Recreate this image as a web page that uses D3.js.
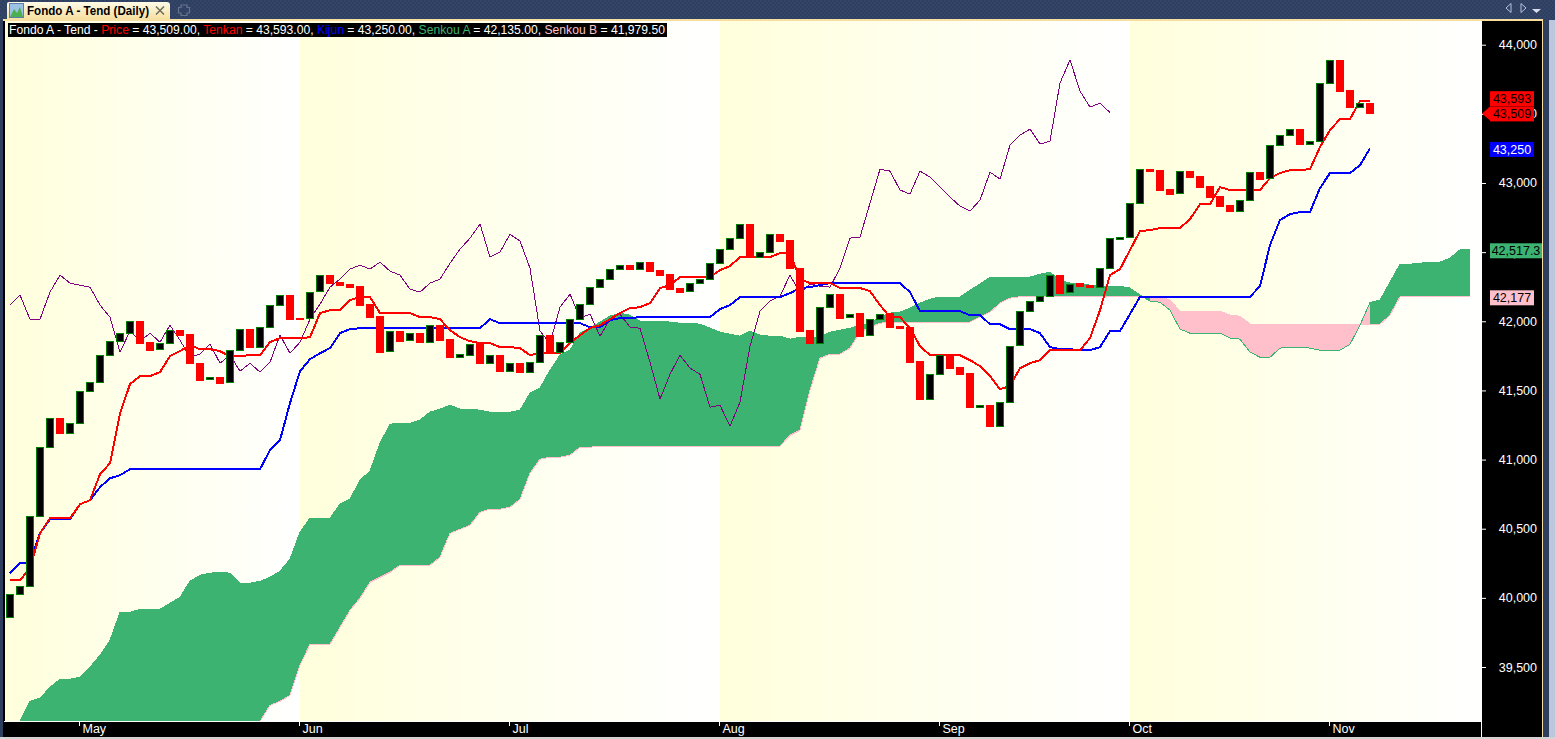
<!DOCTYPE html>
<html><head><meta charset="utf-8">
<script src="https://cdnjs.cloudflare.com/ajax/libs/d3/7.8.5/d3.min.js"></script>
<style>html,body{margin:0;padding:0;background:#2d3e5f;overflow:hidden}svg{display:block}text{font-family:"Liberation Sans",Arial,sans-serif}</style>
</head><body><svg id="c" width="1555" height="739"></svg>
<script>
// ---------- data (price units, one entry per trading day) ----------
const opens=[39860,40026,40084,40590,41089,41299,41191,41263,41495,41560,41755,41856,41914,42001,41849,41798,41842,41936,41907,41697,41581,41596,41560,41791,41943,41813,41957,42117,42189,42023,42023,42218,42334,42283,42269,42254,42124,42037,41784,41929,41863,41914,41849,41972,41871,41740,41755,41849,41697,41755,41639,41697,41632,41704,41900,41777,41849,42015,42124,42247,42305,42377,42406,42377,42428,42370,42341,42240,42218,42276,42305,42420,42522,42601,42703,42464,42500,42630,42587,42384,41936,41842,42102,42196,42030,42059,41900,42015,42059,41965,41957,41711,41437,41617,41755,41668,41625,41379,41393,41241,41415,41827,42073,42146,42182,42334,42211,42276,42261,42247,42384,42594,42609,42854,43100,43093,42956,42927,43086,43050,42978,42905,42840,42797,42876,43079,43035,43274,43346,43390,43281,43303,43723,43889,43672,43549,43578];
const closes=[40026,40084,40590,41089,41299,41191,41263,41495,41560,41755,41856,41914,42001,41842,41791,41842,41936,41900,41697,41574,41596,41552,41791,41943,41813,41957,42117,42189,42015,42015,42211,42334,42276,42261,42247,42117,42030,41777,41929,41856,41914,41849,41972,41863,41740,41762,41834,41697,41755,41639,41697,41632,41704,41900,41769,41849,42015,42124,42247,42305,42377,42406,42377,42428,42363,42334,42232,42211,42276,42305,42420,42522,42601,42703,42464,42500,42630,42580,42384,41929,41842,42102,42196,42023,42052,41892,42015,42052,41957,41950,41704,41437,41617,41755,41661,41617,41379,41393,41241,41415,41820,42073,42146,42182,42334,42203,42269,42254,42247,42384,42601,42609,42854,43100,43086,42949,42920,43086,43043,42970,42898,42833,42797,42876,43079,43028,43274,43346,43390,43281,43303,43723,43889,43665,43549,43578,43509];
const tenkan=[40127,40127,40214,40467,40576,40576,40576,40677,40706,40894,40974,41335,41545,41603,41603,41632,41748,41784,41827,41798,41798,41784,41748,41748,41755,41755,41849,41878,41878,41878,41885,42059,42080,42080,42153,42175,42175,42059,42059,42059,42059,42030,42030,42015,41936,41885,41856,41842,41842,41813,41813,41806,41755,41769,41769,41769,41842,41900,41950,41972,42015,42059,42095,42102,42131,42240,42261,42319,42319,42319,42319,42370,42399,42464,42464,42464,42464,42493,42493,42305,42276,42276,42276,42240,42240,42240,42218,42117,42030,42030,41950,41820,41755,41755,41755,41755,41719,41675,41603,41509,41531,41661,41697,41719,41791,41791,41791,41791,41878,42080,42334,42377,42515,42652,42659,42674,42674,42674,42739,42847,42847,42970,42949,42949,42949,42949,43035,43072,43093,43093,43100,43260,43383,43462,43462,43593,43593];
const kijun=[40178,40250,40258,40467,40569,40569,40569,40677,40706,40800,40865,40887,40930,40930,40930,40930,40930,40930,40930,40930,40930,40930,40930,40930,40930,40930,41068,41140,41408,41639,41726,41769,41806,41914,41943,41950,41950,41950,41950,41950,41950,41950,41950,41950,41950,41950,41950,41950,42015,41986,41986,41986,41986,41986,41986,41986,41986,41986,41957,41957,42008,42023,42023,42030,42030,42030,42030,42030,42030,42030,42030,42088,42117,42175,42175,42175,42175,42175,42203,42240,42247,42261,42276,42276,42276,42276,42276,42276,42276,42276,42211,42073,42073,42073,42073,42073,42044,42044,41979,41979,41943,41943,41943,41914,41813,41798,41798,41791,41791,41813,41929,41929,42052,42177,42177,42177,42177,42177,42177,42177,42177,42177,42177,42177,42177,42254,42551,42732,42775,42789,42789,42963,43072,43072,43072,43129,43250];
const senkouA=[39006,39107,39252,39274,39353,39411,39411,39426,39498,39585,39693,39896,39896,39917,39917,39917,39961,40004,40120,40163,40178,40185,40178,40106,40106,40120,40149,40192,40279,40475,40576,40576,40576,40677,40713,40851,40916,41118,41256,41263,41263,41285,41343,41364,41393,41364,41364,41357,41343,41343,41343,41357,41480,41516,41646,41755,41791,41914,41950,41994,42037,42059,42044,42001,42001,42001,41994,41986,41986,41979,41950,41921,41907,41892,41929,41900,41892,41892,41871,41885,41885,41885,41921,41936,41950,41972,41986,42030,42059,42066,42095,42131,42160,42175,42175,42175,42225,42269,42319,42319,42319,42319,42319,42341,42355,42297,42276,42276,42261,42254,42254,42254,42240,42189,42146,42138,42080,41943,41914,41914,41914,41914,41878,41871,41777,41740,41740,41806,41813,41813,41806,41791,41791,41791,41834,41972,42135,42153,42283,42413,42413,42420,42428,42428,42457,42517,42517];
const senkouB=[38900,38900,38900,38900,38900,38900,38900,38900,38900,38900,38900,38900,38900,38900,38900,38900,38900,38900,38900,38900,38900,38900,38900,38900,38900,39107,39223,39252,39295,39512,39664,39664,39664,39787,39910,39997,40113,40149,40185,40236,40236,40236,40236,40294,40467,40496,40525,40619,40641,40641,40655,40713,40901,41003,41017,41017,41032,41089,41089,41097,41097,41097,41097,41097,41097,41097,41097,41097,41097,41097,41097,41097,41097,41097,41097,41097,41097,41097,41176,41212,41502,41733,41762,41762,41806,41921,41957,41986,41994,41994,41994,41994,41994,41994,41994,41994,41994,42030,42066,42131,42167,42177,42177,42177,42177,42177,42177,42177,42177,42177,42177,42177,42177,42177,42177,42177,42153,42073,42073,42073,42073,42073,42044,42037,41979.5,41979.5,41979.5,41979.5,41979.5,41979.5,41979.5,41979.5,41979.5,41979.5,41979.5,41979.5,41979.5,41979.5,42044,42177,42177,42177,42177,42177,42177,42177,42177];
const chikouShift=26;
const priceTicks=[39500,40000,40500,41000,41500,42000,42500,43000,43500,44000];
const monthNames=["May","Jun","Jul","Aug","Sep","Oct","Nov"];
const monthIndex=[7,29,50,71,93,112,132];
const bandStarts=[0,29,71,112];
const legendParts=[["Fondo A - Tend - ","#fff"],["Price","#ff0000"],[" = 43,509.00, ","#fff"],["Tenkan","#ff0000"],[" = 43,593.00, ","#fff"],["Kijun","#0000ff"],[" = 43,250.00, ","#fff"],["Senkou A","#3cb371"],[" = 42,135.00, ","#fff"],["Senkou B","#ffc0cb"],[" = 41,979.50","#fff"]];
const title="Fondo A - Tend (Daily)";

// ---------- layout ----------
const svg=d3.select("#c");
const L=5,R=1482,T=21,B=721;
const x=d3.scaleLinear().domain([0,146]).range([10,1470]);
const y=d3.scaleLinear().domain([39500,44000]).range([667,44.7]);
const GREEN="#3cb371",PINK="#ffc0cb";
const defs=svg.append("defs");
const bandG=defs.append("linearGradient").attr("id","band");
bandG.append("stop").attr("offset",0).attr("stop-color","#ffffdc");
bandG.append("stop").attr("offset",1).attr("stop-color","#ffffff");
const tabG=defs.append("linearGradient").attr("id","tab").attr("x2",0).attr("y2",1);
tabG.append("stop").attr("offset",0).attr("stop-color","#fffbe8");
tabG.append("stop").attr("offset",1).attr("stop-color","#f6dfa0");
const pat=defs.append("pattern").attr("id","tile").attr("width",4).attr("height",4).attr("patternUnits","userSpaceOnUse");
pat.append("rect").attr("width",4).attr("height",4).attr("fill","#2e3f60");
pat.append("rect").attr("width",2).attr("height",2).attr("fill","#33466a");
pat.append("rect").attr("x",2).attr("y",2).attr("width",2).attr("height",2).attr("fill","#33466a");
defs.append("clipPath").attr("id","plot").append("rect").attr("x",L).attr("y",T).attr("width",R-L).attr("height",B-T);

// window chrome
svg.append("rect").attr("width",1555).attr("height",739).attr("fill","#2d3e5f");
svg.append("rect").attr("width",1555).attr("height",20).attr("fill","url(#tile)");
svg.append("rect").attr("x",1549).attr("y",20).attr("width",6).attr("height",719).attr("fill","#bcc7de");
svg.append("rect").attr("x",0).attr("y",737).attr("width",1555).attr("height",2).attr("fill","#d4d4d4");
svg.append("rect").attr("x",3).attr("y",19).attr("width",1540).attr("height",2).attr("fill","#f6dfa0");
svg.append("rect").attr("x",1542).attr("y",19).attr("width",1).attr("height",718).attr("fill","#f6dfa0");
svg.append("path").attr("d","M7,19V4Q7,2 9,2H167Q170,2 170,5V19Z").attr("fill","url(#tab)");
svg.append("rect").attr("x",9.5).attr("y",3.5).attr("width",14).attr("height",14).attr("fill","#9cc3e6").attr("stroke","#5b7fa8");
svg.append("path").attr("d","M10,17L14,9L17,13L20,7L23,17Z").attr("fill","#4caf50");
svg.append("text").attr("x",27).attr("y",14.500).attr("font-size",13).attr("font-weight","bold").attr("fill","#000").attr("textLength",122).attr("lengthAdjust","spacingAndGlyphs").text(title);
svg.append("path").attr("d","M156,6.500L164,14.500M164,6.500L156,14.500").attr("stroke","#6b6b5a").attr("stroke-width",1.500);
svg.append("path").attr("d","M181,5H187V7.500H189.500V13H187V15.500H181V13H178.500V7.500H181Z").attr("fill","none").attr("stroke","#66738c").attr("stroke-width",1.200);
svg.append("path").attr("d","M1506,8L1511,3.500V12.500Z").attr("fill","none").attr("stroke","#b8c4dc");
svg.append("path").attr("d","M1521,3.500L1526,8L1521,12.500Z").attr("fill","none").attr("stroke","#b8c4dc");
svg.append("path").attr("d","M1532,9H1541L1536.500,13Z").attr("fill","#d8deea");

// plot background and month bands
svg.append("rect").attr("x",3).attr("y",T).attr("width",2).attr("height",716).attr("fill","#000");
const bandEdges=bandStarts.map((d,i)=>i?x(d):L).concat([R]);
svg.append("g").selectAll("rect").data(d3.pairs(bandEdges)).join("rect")
  .attr("x",d=>d[0]).attr("y",T).attr("width",d=>d[1]-d[0]).attr("height",B-T).attr("fill","url(#band)");

const plot=svg.append("g").attr("clip-path","url(#plot)");
// cloud: each interval takes the colour of its left point
const area=d3.area().x(i=>x(i)).y0(i=>y(senkouB[i])).y1(i=>y(senkouA[i]));
plot.append("g").attr("shape-rendering","crispEdges").selectAll("path").data(d3.pairs(d3.range(senkouA.length))).join("path")
  .attr("d",d=>area(d)).attr("fill",d=>senkouA[d[0]]>=senkouB[d[0]]?GREEN:PINK);
const line=(arr)=>d3.line().x((d,i)=>x(i)).y(d=>y(d))(arr);
const lines=plot.append("g").attr("fill","none").attr("shape-rendering","crispEdges");
lines.append("path").attr("d",line(senkouB)).attr("stroke",PINK).attr("stroke-width",1);
lines.append("path").attr("d",line(senkouA)).attr("stroke",GREEN).attr("stroke-width",1);
lines.append("path").attr("d",line(closes.slice(chikouShift))).attr("stroke","#800080").attr("stroke-width",1);
lines.append("path").attr("d",line(kijun)).attr("stroke","#0000ff").attr("stroke-width",2);
lines.append("path").attr("d",line(tenkan)).attr("stroke","#ff0000").attr("stroke-width",2);

// candles
const candles=plot.append("g").attr("shape-rendering","crispEdges").selectAll("rect").data(opens.map((o,i)=>({i,o,c:closes[i]}))).join("rect");
candles.each(function(d){
  const top=Math.round(y(Math.max(d.o,d.c))),bot=Math.round(y(Math.min(d.o,d.c)));
  const up=d.c>=d.o, s=d3.select(this);
  if(up) s.attr("x",x(d.i)-3.5).attr("width",7).attr("y",top+.5).attr("height",Math.max(bot-top,1)).attr("fill","#000").attr("stroke","#008000").attr("stroke-width",1);
  else s.attr("x",x(d.i)-4).attr("width",8).attr("y",top).attr("height",Math.max(bot-top+1,2)).attr("fill","#ff0000");
});

// legend
svg.append("rect").attr("x",8).attr("y",23).attr("width",659).attr("height",14).attr("fill","#000");
const lt=svg.append("text").attr("x",9).attr("y",34).attr("font-size",12).attr("textLength",656).attr("lengthAdjust","spacingAndGlyphs").attr("xml:space","preserve").style("white-space","pre");
lt.selectAll("tspan").data(legendParts).join("tspan").attr("fill",d=>d[1]).text(d=>d[0]);

// price axis pane
svg.append("rect").attr("x",R).attr("y",T).attr("width",1542-R).attr("height",716).attr("fill","#000");
const yAxis=svg.append("g").attr("transform",`translate(${R},0)`)
  .call(d3.axisRight(y).tickValues(priceTicks).tickSize(4).tickPadding(0).tickFormat(d3.format(",")));
yAxis.select(".domain").remove();
yAxis.selectAll("line").attr("stroke","#fff");
yAxis.selectAll("text").attr("x",55).attr("text-anchor","end").attr("font-size",12.500).attr("font-family","'Liberation Sans',Arial,sans-serif").attr("fill","#fff");

// last-value badges (offset = the chart platform nudges close badges apart)
const badge=(v,off,label,bg,fg,w)=>{const cy=y(v)+off;
  svg.append("rect").attr("x",1490).attr("y",cy-7.500).attr("width",w).attr("height",15).attr("fill",bg);
  svg.append("text").attr("x",1490+w/2).attr("y",cy+4.500).attr("text-anchor","middle").attr("font-size",12.500).attr("fill",fg).text(label);};
const fmt=d3.format(",");
badge(tenkan[136],-2.300,fmt(tenkan[136]),"#ff0000","#000",44);
badge(closes[136],1.300,fmt(closes[136]),"#ff0000","#000",44);
svg.append("path").attr("d",d3.line()([[R,y(closes[136])+1],[1490,y(closes[136])-6],[1490,y(closes[136])+8]])+"Z").attr("fill","#ff0000");
badge(kijun[136],1,fmt(kijun[136]),"#0000ff","#fff",44);
badge(senkouA[146],1,"42,517.3",GREEN,"#000",52);
badge(senkouB[146],1,fmt(senkouB[146]),PINK,"#000",44);

// date axis
svg.append("rect").attr("x",L-1).attr("y",B+1).attr("width",R-L).attr("height",15).attr("fill","#000");
svg.append("rect").attr("x",L-1).attr("y",B).attr("width",R-L+1).attr("height",1).attr("fill","#fff");
svg.append("rect").attr("x",R-1).attr("y",B).attr("width",1).attr("height",16).attr("fill","#fff");
const xAxis=svg.append("g").attr("transform",`translate(-1,${B+1})`)
  .call(d3.axisBottom(x).tickValues(monthIndex).tickSize(4).tickFormat((d,i)=>monthNames[i]));
xAxis.select(".domain").remove();
xAxis.selectAll("line").attr("stroke","#fff");
xAxis.selectAll("text").attr("text-anchor","start").attr("dx",3).attr("y",2).attr("dy","0.71em").attr("font-size",12.500).attr("font-family","'Liberation Sans',Arial,sans-serif").attr("fill","#fff");
</script></body></html>
